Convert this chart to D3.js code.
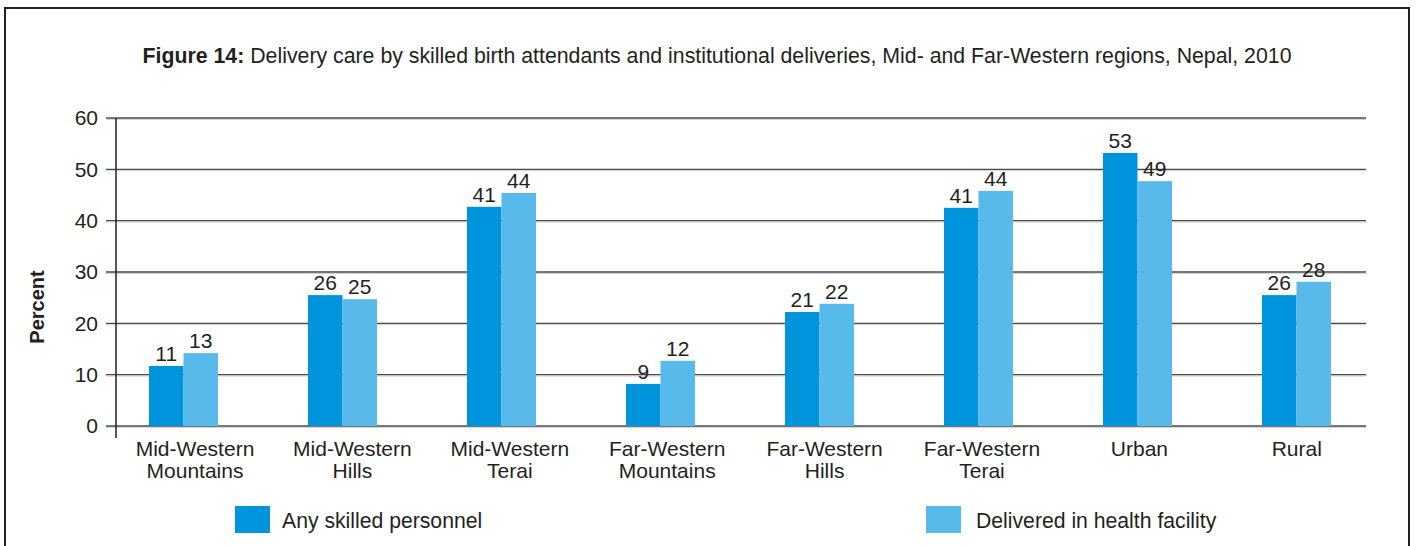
<!DOCTYPE html>
<html>
<head>
<meta charset="utf-8">
<script src="https://cdn.jsdelivr.net/npm/d3@7"></script>
<style>
  body { margin: 0; background: #fff; }
  text { font-family: "Liberation Sans", Arial, sans-serif; fill: #231f20; }
</style>
</head>
<body>
<div id="chart"></div>
<script>
// Data
const categories = [
  ["Mid-Western", "Mountains"],
  ["Mid-Western", "Hills"],
  ["Mid-Western", "Terai"],
  ["Far-Western", "Mountains"],
  ["Far-Western", "Hills"],
  ["Far-Western", "Terai"],
  ["Urban"],
  ["Rural"]
];
const seriesNames = ["Any skilled personnel", "Delivered in health facility"];
// bar heights as drawn
const skilled = [11.7, 25.5, 42.7, 8.2, 22.2, 42.5, 53.2, 25.5];
const facility = [14.2, 24.7, 45.4, 12.7, 23.8, 45.8, 47.7, 28.1];
// printed labels
const skilledLabels = [11, 26, 41, 9, 21, 41, 53, 26];
const facilityLabels = [13, 25, 44, 12, 22, 44, 49, 28];
const yTicks = [0, 10, 20, 30, 40, 50, 60];

const colors = ["#0094dc", "#58baeb"];

const W = 1416, H = 546;
const svg = d3.select("#chart").append("svg")
  .attr("width", W)
  .attr("height", H);

// frame
svg.append("rect")
  .attr("x", 5).attr("y", 8)
  .attr("width", 1404).attr("height", 560)
  .attr("fill", "none")
  .attr("stroke", "#231f20")
  .attr("stroke-width", 2);

// title
const title = svg.append("text")
  .attr("x", 717).attr("y", 63)
  .attr("text-anchor", "middle")
  .style("font-size", "21.3px");
title.append("tspan").style("font-weight", "bold").text("Figure 14:");
title.append("tspan").text(" Delivery care by skilled birth attendants and institutional deliveries, Mid- and Far-Western regions, Nepal, 2010");

// scales
const y = d3.scaleLinear().domain([0, 60]).range([426, 118]);
const x0 = d3.scaleBand().domain(d3.range(categories.length)).range([104, 1376]);
const xLab = d3.scaleBand().domain(d3.range(categories.length)).range([116.3, 1375.5]);
const barW = 34.5;

// gridlines
const grid = svg.append("g");
yTicks.forEach(t => {
  grid.append("line")
    .attr("x1", 106).attr("x2", 1366)
    .attr("y1", y(t) + 1.4).attr("y2", y(t) + 1.4)
    .attr("stroke", "#cfcfcf").attr("stroke-width", 1);
  grid.append("line")
    .attr("x1", 106).attr("x2", 1366)
    .attr("y1", y(t)).attr("y2", y(t))
    .attr("stroke", "#4a4a4a").attr("stroke-width", 1.4);
});

// y axis
const yAxis = svg.append("g")
  .attr("transform", "translate(116,0)")
  .call(d3.axisLeft(y).tickValues(yTicks).tickSize(0).tickPadding(18));
yAxis.select(".domain").remove();
yAxis.selectAll("text")
  .style("font-size", "21px")
  .style("font-family", "'Liberation Sans', Arial, sans-serif")
  .attr("fill", "#231f20");

svg.append("line")
  .attr("x1", 116).attr("x2", 116)
  .attr("y1", 118).attr("y2", 438)
  .attr("stroke", "#231f20").attr("stroke-width", 1.5);

svg.append("text")
  .attr("transform", "translate(44,307) rotate(-90)")
  .attr("text-anchor", "middle")
  .style("font-size", "20px")
  .style("font-weight", "bold")
  .text("Percent");

// bars
const series = [skilled, facility];
const labels = [skilledLabels, facilityLabels];
series.forEach((vals, s) => {
  const g = svg.append("g");
  g.selectAll("rect")
    .data(vals)
    .enter()
    .append("rect")
    .attr("x", (d, i) => x0(i) + x0.bandwidth() / 2 - barW + s * barW)
    .attr("y", d => y(d))
    .attr("width", barW)
    .attr("height", d => y(0) - y(d))
    .attr("fill", colors[s]);

  g.selectAll("text")
    .data(vals)
    .enter()
    .append("text")
    .attr("x", (d, i) => x0(i) + x0.bandwidth() / 2 - barW / 2 + s * barW)
    .attr("y", d => y(d) - 5)
    .attr("text-anchor", "middle")
    .style("font-size", "21px")
    .text((d, i) => labels[s][i]);
});

// category labels
categories.forEach((lines, i) => {
  const t = svg.append("text")
    .attr("x", xLab(i) + xLab.bandwidth() / 2)
    .attr("y", 456)
    .attr("text-anchor", "middle")
    .style("font-size", "21px");
  lines.forEach((ln, k) => {
    t.append("tspan")
      .attr("x", xLab(i) + xLab.bandwidth() / 2)
      .attr("dy", k === 0 ? 0 : 22)
      .text(ln);
  });
});

// legend
const legendX = [235, 926];
seriesNames.forEach((name, s) => {
  svg.append("rect")
    .attr("x", legendX[s]).attr("y", 506)
    .attr("width", 35).attr("height", 27)
    .attr("fill", colors[s]);
  svg.append("text")
    .attr("x", legendX[s] + 47 + (s === 1 ? 3 : 0))
    .attr("y", 528)
    .style("font-size", "21.2px")
    .text(name);
});
</script>
</body>
</html>
